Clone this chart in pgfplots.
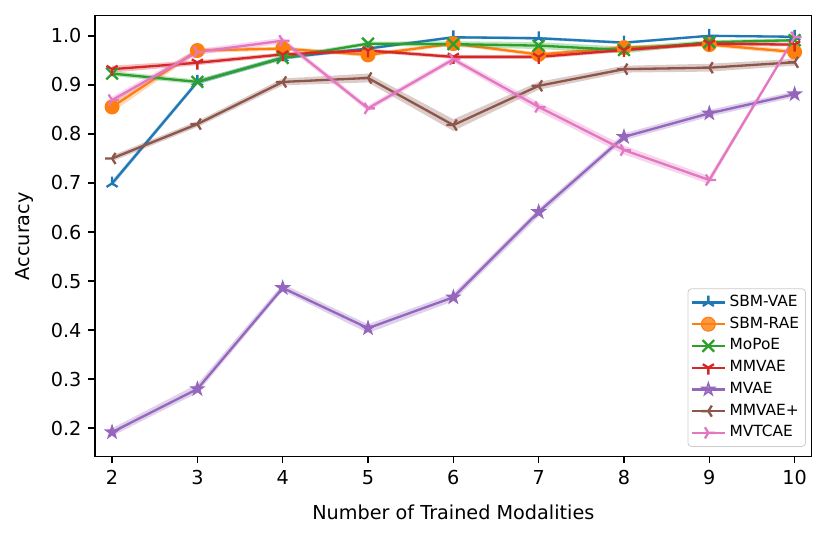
\documentclass[border=0pt]{standalone}
\usepackage{pgfplots}
\pgfplotsset{compat=1.18}
\usepackage{fontspec}
\setmainfont{DejaVu Sans}
\definecolor{cblue}{HTML}{1F77B4}
\definecolor{corange}{HTML}{FF7F0E}
\definecolor{cgreen}{HTML}{2CA02C}
\definecolor{cred}{HTML}{D62728}
\definecolor{cpurple}{HTML}{9467BD}
\definecolor{cbrown}{HTML}{8C564B}
\definecolor{cpink}{HTML}{E377C2}
\pgfdeclareplotmark{tridown}{%
 \pgfpathmoveto{\pgfpointorigin}\pgfpathlineto{\pgfpoint{0pt}{-\pgfplotmarksize}}%
 \pgfpathmoveto{\pgfpointorigin}\pgfpathlineto{\pgfpoint{0.8\pgfplotmarksize}{0.5\pgfplotmarksize}}%
 \pgfpathmoveto{\pgfpointorigin}\pgfpathlineto{\pgfpoint{-0.8\pgfplotmarksize}{0.5\pgfplotmarksize}}%
 \pgfusepathqstroke}
\pgfdeclareplotmark{triup}{%
 \pgfpathmoveto{\pgfpointorigin}\pgfpathlineto{\pgfpoint{0pt}{\pgfplotmarksize}}%
 \pgfpathmoveto{\pgfpointorigin}\pgfpathlineto{\pgfpoint{0.8\pgfplotmarksize}{-0.5\pgfplotmarksize}}%
 \pgfpathmoveto{\pgfpointorigin}\pgfpathlineto{\pgfpoint{-0.8\pgfplotmarksize}{-0.5\pgfplotmarksize}}%
 \pgfusepathqstroke}
\pgfdeclareplotmark{trileft}{%
 \pgfpathmoveto{\pgfpointorigin}\pgfpathlineto{\pgfpoint{-\pgfplotmarksize}{0pt}}%
 \pgfpathmoveto{\pgfpointorigin}\pgfpathlineto{\pgfpoint{0.5\pgfplotmarksize}{0.8\pgfplotmarksize}}%
 \pgfpathmoveto{\pgfpointorigin}\pgfpathlineto{\pgfpoint{0.5\pgfplotmarksize}{-0.8\pgfplotmarksize}}%
 \pgfusepathqstroke}
\pgfdeclareplotmark{triright}{%
 \pgfpathmoveto{\pgfpointorigin}\pgfpathlineto{\pgfpoint{\pgfplotmarksize}{0pt}}%
 \pgfpathmoveto{\pgfpointorigin}\pgfpathlineto{\pgfpoint{-0.5\pgfplotmarksize}{0.8\pgfplotmarksize}}%
 \pgfpathmoveto{\pgfpointorigin}\pgfpathlineto{\pgfpoint{-0.5\pgfplotmarksize}{-0.8\pgfplotmarksize}}%
 \pgfusepathqstroke}
\pgfdeclareplotmark{fstar}{%
 \pgfpathmoveto{\pgfpointpolar{90}{\pgfplotmarksize}}%
 \pgfpathlineto{\pgfpointpolar{126}{0.381966\pgfplotmarksize}}%
 \pgfpathlineto{\pgfpointpolar{162}{\pgfplotmarksize}}%
 \pgfpathlineto{\pgfpointpolar{198}{0.381966\pgfplotmarksize}}%
 \pgfpathlineto{\pgfpointpolar{234}{\pgfplotmarksize}}%
 \pgfpathlineto{\pgfpointpolar{270}{0.381966\pgfplotmarksize}}%
 \pgfpathlineto{\pgfpointpolar{306}{\pgfplotmarksize}}%
 \pgfpathlineto{\pgfpointpolar{342}{0.381966\pgfplotmarksize}}%
 \pgfpathlineto{\pgfpointpolar{18}{\pgfplotmarksize}}%
 \pgfpathlineto{\pgfpointpolar{54}{0.381966\pgfplotmarksize}}%
 \pgfpathclose\pgfusepathqfillstroke}
\begin{document}
\begin{tikzpicture}
\begin{axis}[
  scale only axis,
  width=372.68pt, height=229.32pt,
  xmin=1.8, xmax=10.2, ymin=0.142, ymax=1.041,
  xtick={2,3,4,5,6,7,8,9,10},
  ytick={0.2,0.3,0.4,0.5,0.6,0.7,0.8,0.9,1.0},
  yticklabel style={/pgf/number format/.cd, fixed, fixed zerofill, precision=1},
  /pgf/number format/assume math mode=true,
  tick pos=left, tick align=outside,
  major tick length=3.5pt,
  every tick/.style={black, line width=0.8pt},
  axis line style={line width=0.8pt},
  tick label style={font=\fontsize{10}{12}\selectfont},
  label style={font=\fontsize{10}{12}\selectfont},
  xlabel={Number of Trained Modalities},
  ylabel={Accuracy},
  xlabel style={at={(axis description cs:0.5,-0.1254)}, anchor=center},
  ylabel style={at={(axis description cs:-0.0977,0.5)}, anchor=center},
  legend style={at={(rel axis cs:0.992,0.022)}, anchor=south east,
    font=\fontsize{8}{9.6}\selectfont, draw=black!20, fill=white, fill opacity=0.8, text opacity=1,
    rounded corners=2pt, inner sep=1.5pt,
    nodes={inner sep=1.9pt, text height=5.8pt, text depth=1.7pt}},
  legend cell align=left,
  every axis plot/.append style={line width=1.2pt},
]
% SBM-VAE
\addplot[draw=none, fill=cblue, fill opacity=0.3, forget plot] coordinates {
(2,0.705)(3,0.911)(4,0.959)(5,0.977)(6,1.000)(7,0.998)(8,0.989)(9,1.002)(10,1.000)
(10,0.996)(9,0.998)(8,0.983)(7,0.992)(6,0.994)(5,0.971)(4,0.951)(3,0.901)(2,0.693)} -- cycle;
\addplot[cblue, mark=triup, mark size=3.6pt, mark options={line width=1.2pt}] coordinates {
(2,0.699)(3,0.906)(4,0.955)(5,0.974)(6,0.997)(7,0.995)(8,0.986)(9,1.000)(10,0.998)};
\addlegendentry{SBM-VAE}
% SBM-RAE
\addplot[draw=none, fill=corange, fill opacity=0.3, forget plot] coordinates {
(2,0.866)(3,0.975)(4,0.978)(5,0.965)(6,0.988)(7,0.966)(8,0.980)(9,0.986)(10,0.972)
(10,0.962)(9,0.978)(8,0.972)(7,0.958)(6,0.980)(5,0.957)(4,0.970)(3,0.965)(2,0.844)} -- cycle;
\addplot[corange, mark=*, mark size=3.6pt, mark options={fill=corange, line width=0.6pt}] coordinates {
(2,0.855)(3,0.970)(4,0.974)(5,0.961)(6,0.984)(7,0.962)(8,0.976)(9,0.982)(10,0.967)};
\addlegendentry{SBM-RAE}
% MoPoE
\addplot[draw=none, fill=cgreen, fill opacity=0.3, forget plot] coordinates {
(2,0.928)(3,0.911)(4,0.960)(5,0.988)(6,0.989)(7,0.987)(8,0.978)(9,0.991)(10,0.995)
(10,0.987)(9,0.983)(8,0.964)(7,0.973)(6,0.977)(5,0.980)(4,0.950)(3,0.901)(2,0.918)} -- cycle;
\addplot[cgreen, mark=x, mark size=4.3pt, mark options={line width=1.2pt}] coordinates {
(2,0.923)(3,0.906)(4,0.955)(5,0.984)(6,0.983)(7,0.980)(8,0.971)(9,0.987)(10,0.991)};
\addlegendentry{MoPoE}
% MMVAE
\addplot[draw=none, fill=cred, fill opacity=0.3, forget plot] coordinates {
(2,0.939)(3,0.950)(4,0.966)(5,0.974)(6,0.961)(7,0.961)(8,0.975)(9,0.988)(10,0.986)
(10,0.978)(9,0.980)(8,0.967)(7,0.953)(6,0.953)(5,0.966)(4,0.958)(3,0.940)(2,0.925)} -- cycle;
\addplot[cred, mark=tridown, mark size=3.6pt, mark options={line width=1.2pt}] coordinates {
(2,0.932)(3,0.945)(4,0.962)(5,0.970)(6,0.957)(7,0.957)(8,0.971)(9,0.984)(10,0.982)};
\addlegendentry{MMVAE}
% MVAE
\addplot[draw=none, fill=cpurple, fill opacity=0.3, forget plot] coordinates {
(2,0.200)(3,0.290)(4,0.494)(5,0.412)(6,0.475)(7,0.648)(8,0.801)(9,0.849)(10,0.887)
(10,0.875)(9,0.835)(8,0.787)(7,0.632)(6,0.459)(5,0.394)(4,0.480)(3,0.272)(2,0.184)} -- cycle;
\addplot[cpurple, mark=fstar, mark size=3.6pt, mark options={fill=cpurple, line width=0.6pt}] coordinates {
(2,0.192)(3,0.280)(4,0.486)(5,0.404)(6,0.467)(7,0.641)(8,0.794)(9,0.842)(10,0.881)};
\addlegendentry{MVAE}
% MMVAE+
\addplot[draw=none, fill=cbrown, fill opacity=0.3, forget plot] coordinates {
(2,0.756)(3,0.826)(4,0.913)(5,0.923)(6,0.830)(7,0.906)(8,0.939)(9,0.943)(10,0.953)
(10,0.939)(9,0.927)(8,0.925)(7,0.890)(6,0.806)(5,0.905)(4,0.899)(3,0.814)(2,0.744)} -- cycle;
\addplot[cbrown, mark=trileft, mark size=3.6pt, mark options={line width=1.2pt}] coordinates {
(2,0.750)(3,0.820)(4,0.906)(5,0.914)(6,0.818)(7,0.898)(8,0.932)(9,0.935)(10,0.946)};
\addlegendentry{MMVAE+}
% MVTCAE
\addplot[draw=none, fill=cpink, fill opacity=0.3, forget plot] coordinates {
(2,0.876)(3,0.973)(4,0.996)(5,0.858)(6,0.958)(7,0.864)(8,0.776)(9,0.714)(10,1.000)
(10,0.994)(9,0.698)(8,0.758)(7,0.846)(6,0.946)(5,0.846)(4,0.984)(3,0.961)(2,0.862)} -- cycle;
\addplot[cpink, mark=triright, mark size=3.6pt, mark options={line width=1.2pt}] coordinates {
(2,0.869)(3,0.967)(4,0.990)(5,0.852)(6,0.952)(7,0.855)(8,0.767)(9,0.706)(10,0.997)};
\addlegendentry{MVTCAE}
\end{axis}
\pgfresetboundingbox
\useasboundingbox (-49.4pt,-42.8pt) rectangle (381.68pt,237.48pt);
\end{tikzpicture}
\end{document}
